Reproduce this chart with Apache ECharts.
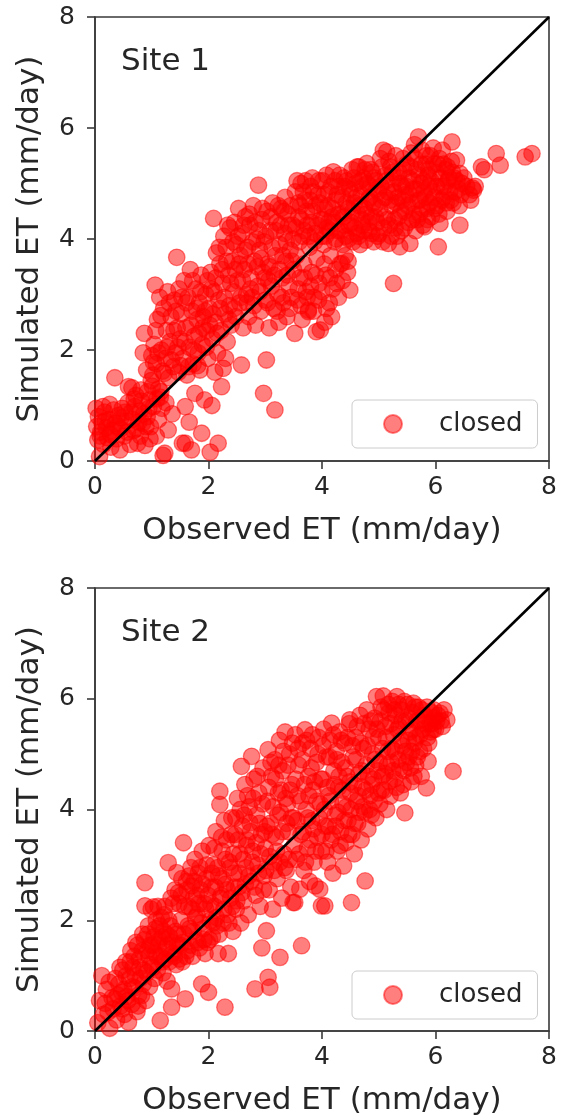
<!DOCTYPE html>
<html>
<head>
<meta charset="utf-8">
<script src="https://cdn.jsdelivr.net/npm/echarts@6/dist/echarts.min.js"></script>
<style>
  html, body { margin: 0; padding: 0; background: #fff; }
  #chart { width: 561px; height: 1120px; }
</style>
</head>
<body>
<div id="chart"></div>
<script>
// Observed vs simulated daily evapotranspiration, two sites, with the 1:1 line.
const axisTicks = [0, 2, 4, 6, 8];
const siteNames = ['Site 1', 'Site 2'];
const seriesName = 'closed';
const xTitle = 'Observed ET (mm/day)';
const yTitle = 'Simulated ET (mm/day)';
const oneToOne = [[0, 0], [8, 8]];

// [observed, simulated] pairs, mm/day
const site1Points = [
  [0.03,0.62],[0.05,0.38],[0.06,0.80],[0.08,0.08],[0.10,0.52],[0.12,0.70],[0.15,0.30],[0.17,0.88],[0.20,0.60],[0.22,0.42],[0.25,0.75],[0.28,0.25],[0.30,0.55],[0.33,0.92],[0.35,1.50],[0.36,0.68],[0.38,0.40],[0.41,0.82],[0.44,0.20],[0.45,0.58],[0.48,0.95],[0.02,0.95],[0.14,0.98],[0.26,1.02],
  [0.52,0.45],[0.55,0.72],[0.58,1.05],[0.59,1.34],[0.62,0.30],[0.64,0.88],[0.65,1.32],[0.68,0.55],[0.70,0.98],[0.72,1.18],[0.75,0.32],[0.77,0.70],[0.80,0.45],[0.82,1.08],[0.85,1.95],[0.86,0.85],[0.87,2.30],[0.88,0.28],[0.90,0.62],[0.91,1.64],[0.93,1.25],[0.95,0.95],[0.97,0.40],[0.99,1.45],[1.00,1.90],
  [1.02,1.55],[1.04,2.10],[1.06,3.17],[1.08,1.75],[1.10,2.55],[1.12,1.30],[1.14,2.95],[1.15,1.15],[1.17,2.00],[1.19,1.62],[1.20,0.10],[1.21,2.75],[1.23,0.14],[1.24,1.85],[1.26,2.35],[1.28,3.05],[1.29,0.56],[1.30,1.50],[1.32,2.15],[1.34,2.60],[1.36,0.85],[1.38,1.70],[1.40,2.90],[1.42,1.95],[1.44,3.67],[1.45,2.40],[1.47,1.60],[1.48,3.10],[1.50,2.20],[1.12,0.75],[1.25,1.05],[1.08,0.45],[1.18,0.95],
  [1.52,2.65],[1.54,0.32],[1.55,1.85],[1.57,3.25],[1.59,0.98],[1.60,2.40],[1.62,1.55],[1.64,2.95],[1.66,2.05],[1.68,3.45],[1.70,0.20],[1.71,2.70],[1.73,1.75],[1.75,2.25],[1.76,1.22],[1.78,3.10],[1.80,2.55],[1.82,1.95],[1.84,2.85],[1.85,1.64],[1.87,3.35],[1.88,0.50],[1.89,2.10],[1.91,2.60],[1.93,1.10],[1.95,3.00],[1.97,2.35],[1.99,1.85],[1.59,0.32],[1.66,0.70],
  [2.01,2.75],[2.03,0.16],[2.04,3.40],[2.06,1.00],[2.07,2.20],[2.09,4.37],[2.10,3.05],[2.12,2.50],[2.14,3.75],[2.16,1.95],[2.17,0.32],[2.18,2.90],[2.20,3.55],[2.22,2.35],[2.23,1.34],[2.25,3.20],[2.26,1.67],[2.27,4.05],[2.29,2.65],[2.31,3.85],[2.33,2.15],[2.35,3.35],[2.37,2.80],[2.38,4.20],[2.40,2.45],[2.42,3.60],[2.44,3.05],[2.46,4.30],[2.48,2.60],[2.49,3.90],[2.11,1.60],[2.30,1.85],
  [2.51,3.25],[2.53,4.55],[2.55,2.85],[2.56,3.70],[2.58,1.73],[2.59,4.10],[2.61,2.40],[2.63,3.45],[2.65,4.40],[2.67,3.00],[2.69,3.85],[2.71,2.60],[2.73,4.25],[2.75,3.30],[2.77,2.95],[2.79,4.60],[2.81,3.60],[2.83,2.45],[2.85,4.00],[2.87,3.15],[2.88,4.97],[2.90,3.80],[2.92,2.70],[2.94,4.35],[2.96,3.40],[2.97,1.22],[2.98,3.95],[3.00,2.90],[3.02,1.82],
  [3.03,4.50],[3.05,3.55],[3.07,2.40],[3.09,4.15],[3.11,3.15],[3.13,4.65],[3.15,2.75],[3.17,0.92],[3.18,3.70],[3.20,4.30],[3.22,3.00],[3.24,2.50],[3.26,3.90],[3.28,4.55],[3.30,3.30],[3.32,2.85],[3.34,4.10],[3.36,3.60],[3.38,2.60],[3.40,4.45],[3.42,3.15],[3.44,3.80],[3.46,2.95],[3.48,4.25],[3.50,3.45],[3.52,2.30],[3.06,3.25],[3.35,4.75],
  [3.53,4.85],[3.55,3.70],[3.57,2.90],[3.59,4.40],[3.61,3.30],[3.63,5.00],[3.65,2.55],[3.66,4.05],[3.68,3.55],[3.70,4.70],[3.72,3.05],[3.74,4.25],[3.76,2.72],[3.78,3.85],[3.80,4.95],[3.82,3.40],[3.84,4.50],[3.86,2.95],[3.88,4.10],[3.90,2.33],[3.91,3.65],[3.93,4.80],[3.95,3.20],[3.97,2.36],[3.98,4.35],[3.76,2.69],[3.62,4.60],
  [4.01,5.05],[4.03,3.90],[4.05,4.55],[4.07,3.35],[4.09,4.20],[4.11,4.85],[4.13,2.85],[4.15,3.70],[4.17,2.60],[4.18,4.40],[4.20,5.21],[4.22,3.95],[4.24,4.70],[4.26,3.20],[4.28,4.15],[4.30,4.95],[4.32,3.55],[4.34,4.45],[4.35,3.56],[4.37,3.90],[4.39,5.10],[4.41,4.25],[4.43,4.65],[4.45,3.40],[4.47,4.00],[4.49,3.08],[4.49,4.90],[4.12,4.30],
  [4.51,4.30],[4.53,5.25],[4.55,3.95],[4.57,4.65],[4.59,5.00],[4.61,4.10],[4.63,4.45],[4.65,5.30],[4.67,3.90],[4.69,4.80],[4.71,4.25],[4.73,5.10],[4.75,4.55],[4.77,3.98],[4.79,5.36],[4.81,4.70],[4.83,4.15],[4.85,4.95],[4.87,4.40],[4.89,5.20],[4.91,3.95],[4.93,4.60],[4.95,5.05],[4.97,4.30],[4.99,4.85],
  [5.01,4.10],[5.03,5.45],[5.05,4.70],[5.07,3.95],[5.08,5.60],[5.10,4.40],[5.12,5.15],[5.14,5.57],[5.16,4.85],[5.17,3.92],[5.19,4.25],[5.21,5.30],[5.23,4.60],[5.25,5.00],[5.26,3.20],[5.28,4.35],[5.30,5.50],[5.32,4.05],[5.34,4.75],[5.36,5.20],[5.37,3.86],[5.39,4.50],[5.41,4.95],[5.43,5.45],[5.45,4.20],[5.47,4.80],[5.49,5.35],
  [5.51,4.60],[5.53,5.10],[5.55,3.92],[5.57,5.55],[5.59,4.35],[5.61,4.90],[5.63,5.70],[5.65,4.15],[5.67,5.25],[5.69,4.70],[5.70,5.84],[5.72,4.45],[5.74,5.00],[5.76,5.60],[5.78,4.25],[5.80,4.85],[5.81,4.22],[5.83,5.35],[5.85,4.55],[5.87,5.15],[5.89,4.95],[5.91,5.50],[5.93,4.40],[5.96,5.64],[5.98,4.75],
  [6.01,5.20],[6.03,4.60],[6.05,3.86],[6.07,5.45],[6.08,4.28],[6.10,4.95],[6.12,5.60],[6.15,4.75],[6.18,5.25],[6.20,4.50],[6.22,5.05],[6.25,4.85],[6.28,5.40],[6.29,5.75],[6.31,4.65],[6.33,5.10],[6.37,5.42],[6.40,4.90],[6.43,4.25],[6.43,5.18],[6.47,5.00],
  [6.60,4.80],[6.67,4.88],[6.70,4.95],[6.81,5.30],[6.86,5.25],[7.14,5.33],[7.07,5.54],[7.58,5.48],[7.70,5.54],
  [0.09,0.45],[0.18,0.72],[0.27,0.48],[0.39,0.62],[0.46,0.78],[0.53,0.88],[0.57,0.52],[0.66,0.75],[0.73,0.58],[0.79,0.90],[0.84,0.68],[0.92,0.80],[0.98,0.62],[1.03,0.98],[1.09,1.12],[1.16,1.25],[0.69,1.12],[0.81,1.28],[0.96,1.10],[1.01,1.35],
  [1.03,1.78],[1.07,2.35],[1.11,1.95],[1.16,2.62],[1.22,1.58],[1.27,2.05],[1.31,2.85],[1.35,1.82],[1.39,2.35],[1.43,2.70],[1.46,2.05],[1.51,1.72],[1.53,2.95],[1.58,2.15],[1.61,2.85],[1.65,1.70],[1.69,2.45],[1.72,3.25],[1.74,2.00],[1.79,2.75],[1.83,2.30],[1.86,3.05],[1.90,2.40],[1.94,2.70],[1.98,3.25],[1.96,2.05],[1.81,1.72],
  [2.02,2.45],[2.05,3.10],[2.08,2.65],[2.13,3.30],[2.15,2.30],[2.19,3.85],[2.21,2.75],[2.24,3.45],[2.28,2.95],[2.32,3.60],[2.34,4.25],[2.36,2.55],[2.39,3.20],[2.43,3.95],[2.45,2.75],[2.47,3.45],[2.52,4.05],[2.54,3.55],[2.57,2.95],[2.60,3.25],[2.62,4.25],[2.64,3.80],[2.68,2.85],[2.70,3.55],[2.72,4.45],[2.74,3.10],[2.78,3.95],[2.80,2.80],[2.82,4.30],[2.86,3.50],[2.89,4.15],[2.91,3.05],[2.93,3.65],[2.95,4.55],[2.99,3.30],[3.01,4.05],[3.04,2.85],[3.08,3.50],[3.10,4.40],[3.12,3.85],[3.16,3.35],[3.19,4.15],[3.21,2.70],[3.23,4.60],[3.25,3.45],[3.27,4.25],[3.29,2.95],[3.31,3.70],[3.33,4.50],[3.37,3.95],[3.39,3.35],[3.41,4.25],[3.43,2.75],[3.45,4.60],[3.47,3.60],[3.49,4.00],
  [3.54,4.20],[3.56,5.05],[3.58,4.65],[3.60,3.95],[3.64,4.35],[3.67,4.85],[3.69,4.15],[3.71,5.05],[3.73,4.50],[3.77,4.05],[3.79,4.70],[3.81,4.30],[3.83,5.10],[3.85,4.85],[3.87,3.95],[3.89,4.60],[3.92,4.25],[3.94,5.05],[3.96,4.65],[3.99,4.05],
  [4.02,4.35],[4.04,4.80],[4.06,4.05],[4.08,5.15],[4.10,4.60],[4.14,4.15],[4.16,4.95],[4.19,4.55],[4.21,4.30],[4.23,5.05],[4.25,4.00],[4.27,4.80],[4.29,4.45],[4.31,5.15],[4.33,4.15],[4.36,4.75],[4.38,4.40],[4.40,4.95],[4.42,4.05],[4.44,5.05],[4.46,4.55],[4.48,4.25],
  [4.52,4.80],[4.54,4.50],[4.56,5.10],[4.58,4.20],[4.60,4.75],[4.62,5.30],[4.64,4.05],[4.66,4.60],[4.68,5.05],[4.70,4.35],[4.72,4.95],[4.74,4.15],[4.76,5.25],[4.78,4.45],[4.80,5.00],[4.82,4.30],[4.84,4.75],[4.86,5.25],[4.88,4.10],[4.90,4.65],[4.92,5.10],[4.94,4.40],[4.96,4.90],[4.98,4.05],
  [5.02,4.55],[5.04,4.95],[5.06,5.30],[5.09,4.20],[5.11,4.75],[5.13,5.05],[5.15,4.35],[5.18,5.40],[5.20,4.70],[5.22,4.05],[5.24,5.20],[5.27,4.85],[5.29,4.20],[5.31,4.65],[5.33,5.10],[5.35,4.40],[5.38,5.00],[5.40,4.15],[5.42,4.70],[5.44,5.25],[5.46,4.50],[5.48,4.95],
  [5.52,4.30],[5.54,4.80],[5.56,5.30],[5.58,4.65],[5.60,5.05],[5.62,4.45],[5.64,5.45],[5.66,4.90],[5.68,4.35],[5.71,5.15],[5.73,4.70],[5.75,5.35],[5.77,4.55],[5.79,5.05],[5.82,4.75],[5.84,5.50],[5.86,4.35],[5.88,5.25],[5.90,4.65],[5.92,5.05],[5.95,4.85],[5.97,5.35],[5.99,4.55],
  [6.02,4.95],[6.04,5.35],[6.06,4.45],[6.09,5.10],[6.11,4.70],[6.14,5.35],[6.16,4.95],[6.19,4.65],[6.21,5.30],[6.24,5.10],[6.27,4.70],[6.30,5.20],[6.35,4.85],[6.38,5.05],[6.42,4.60],[6.45,4.80],[6.50,5.10],[6.55,4.95],[6.62,4.70],[6.65,4.92],
  [3.58,3.10],[3.63,2.80],[3.69,3.30],[3.74,2.95],[3.80,3.15],[3.85,2.70],[3.89,3.35],[3.94,2.90],[4.00,3.05],[4.04,3.55],[4.08,2.75],[4.14,3.30],[4.19,3.10],[4.24,3.45],[4.29,2.95],[4.36,3.25],[4.41,3.70],[4.46,3.60],[4.05,2.50]
];

const site2Points = [
  [0.05,0.15],[0.08,0.55],[0.12,1.00],[0.15,0.30],[0.20,0.75],[0.23,0.34],[0.26,0.05],[0.30,0.60],[0.35,0.58],[0.38,0.20],[0.42,0.85],[0.45,0.45],[0.47,0.70],[0.49,1.10],
  [0.52,0.30],[0.54,1.25],[0.56,0.62],[0.59,0.16],[0.61,0.95],[0.63,1.45],[0.65,0.48],[0.67,1.15],[0.70,0.78],[0.72,1.60],[0.74,0.35],[0.76,0.45],[0.78,1.30],[0.80,0.95],[0.82,0.64],[0.84,1.75],[0.86,1.10],[0.88,2.26],[0.88,2.68],[0.90,0.55],[0.92,1.45],[0.94,1.90],[0.96,0.80],[0.98,1.20],[0.99,2.20],
  [1.01,1.55],[1.03,2.24],[1.05,0.95],[1.07,1.85],[1.09,1.35],[1.11,2.25],[1.13,1.65],[1.15,0.19],[1.17,2.05],[1.19,1.25],[1.21,1.80],[1.23,2.25],[1.25,1.50],[1.27,0.90],[1.29,3.04],[1.30,2.00],[1.32,1.70],[1.34,2.40],[1.35,0.76],[1.35,0.43],[1.37,1.40],[1.41,2.55],[1.43,1.20],[1.44,2.86],[1.46,1.75],[1.48,2.30],[1.50,1.55],
  [1.52,2.45],[1.54,1.25],[1.56,3.40],[1.57,1.75],[1.59,0.58],[1.61,2.70],[1.63,1.45],[1.65,2.25],[1.67,1.85],[1.69,2.95],[1.70,2.62],[1.72,1.35],[1.74,2.40],[1.76,3.10],[1.78,1.65],[1.80,2.10],[1.82,2.85],[1.84,1.50],[1.86,2.55],[1.88,0.85],[1.89,3.25],[1.91,1.85],[1.93,2.30],[1.94,1.40],[1.96,2.75],[1.98,1.60],
  [2.00,0.70],[2.01,3.35],[2.03,2.00],[2.05,2.60],[2.07,1.70],[2.09,3.00],[2.11,2.25],[2.13,3.60],[2.15,1.90],[2.17,1.40],[2.18,2.80],[2.20,4.33],[2.20,4.09],[2.22,2.45],[2.24,3.25],[2.26,1.95],[2.28,3.80],[2.29,0.43],[2.30,2.65],[2.32,3.45],[2.34,2.10],[2.35,1.40],[2.37,3.05],[2.39,2.40],[2.41,3.85],[2.43,1.80],[2.45,2.85],[2.47,3.55],[2.49,2.20],
  [2.51,4.20],[2.53,2.60],[2.55,3.20],[2.57,1.95],[2.58,4.78],[2.60,3.70],[2.62,2.35],[2.64,4.45],[2.66,2.95],[2.68,3.45],[2.70,2.10],[2.72,4.05],[2.73,3.76],[2.75,2.70],[2.76,4.96],[2.78,3.25],[2.80,4.55],[2.82,0.76],[2.83,2.45],[2.85,3.90],[2.87,3.00],[2.89,4.30],[2.91,2.25],[2.93,3.55],[2.94,1.50],[2.96,4.75],[2.98,2.80],
  [3.00,3.30],[3.02,1.81],[3.04,4.15],[3.05,5.08],[3.05,0.97],[3.07,2.55],[3.08,0.79],[3.09,3.75],[3.11,4.60],[3.13,2.20],[3.15,3.05],[3.17,4.90],[3.19,3.50],[3.21,2.75],[3.23,4.30],[3.25,5.25],[3.26,1.33],[3.27,3.95],[3.29,2.40],[3.31,4.70],[3.33,3.20],[3.35,5.40],[3.37,2.90],[3.39,4.10],[3.41,3.60],[3.43,5.00],[3.45,2.60],[3.47,4.45],[3.49,2.32],[3.50,3.85],
  [3.52,2.32],[3.53,5.35],[3.55,3.10],[3.57,4.25],[3.59,4.80],[3.61,2.56],[3.63,3.55],[3.64,1.54],[3.66,5.20],[3.68,2.90],[3.70,5.44],[3.72,4.00],[3.74,3.30],[3.76,4.60],[3.78,2.70],[3.80,5.10],[3.82,3.80],[3.84,4.35],[3.86,3.05],[3.88,2.62],[3.90,4.85],[3.92,3.50],[3.94,5.30],[3.96,2.56],[3.97,4.10],[3.99,2.26],[3.99,3.25],
  [4.01,4.55],[4.03,5.45],[4.05,2.26],[4.06,3.70],[4.08,4.95],[4.10,3.05],[4.12,4.25],[4.14,5.25],[4.16,3.45],[4.17,5.56],[4.19,2.85],[4.21,4.70],[4.23,3.90],[4.25,5.05],[4.27,3.25],[4.29,4.40],[4.31,5.40],[4.33,3.60],[4.35,4.85],[4.37,4.10],[4.38,2.98],[4.40,5.20],[4.42,3.40],[4.44,4.60],[4.46,3.80],[4.48,5.55],[4.49,5.62],[4.50,4.30],
  [4.52,2.32],[4.53,3.55],[4.55,4.95],[4.57,3.20],[4.59,5.30],[4.61,4.15],[4.63,3.75],[4.65,4.65],[4.67,5.70],[4.69,3.45],[4.71,4.40],[4.73,5.10],[4.75,3.95],[4.76,2.71],[4.78,4.80],[4.79,5.80],[4.81,3.65],[4.83,5.45],[4.85,4.25],[4.87,3.90],[4.89,5.00],[4.91,4.55],[4.93,5.65],[4.95,3.85],[4.96,6.04],[4.98,4.70],
  [5.00,5.30],[5.02,4.10],[5.04,5.85],[5.06,4.60],[5.08,6.05],[5.10,4.35],[5.12,5.50],[5.14,4.00],[5.16,5.05],[5.18,5.75],[5.20,4.24],[5.22,4.85],[5.24,5.95],[5.26,5.35],[5.28,4.55],[5.30,5.70],[5.32,6.04],[5.34,4.90],[5.36,5.50],[5.38,4.30],[5.40,5.80],[5.42,5.15],[5.44,4.70],[5.46,3.94],[5.48,5.60],
  [5.51,5.90],[5.53,4.95],[5.55,5.40],[5.57,4.50],[5.59,5.75],[5.61,5.92],[5.63,5.20],[5.65,4.80],[5.67,5.60],[5.70,5.85],[5.72,5.05],[5.75,4.60],[5.78,5.45],[5.80,5.70],[5.84,4.39],[5.86,5.30],[5.87,4.87],[5.90,5.55],[5.93,5.75],[5.96,5.44],[5.98,5.65],
  [6.02,5.60],[6.08,5.74],[6.12,5.50],[6.20,5.62],[6.31,4.69],
  [0.18,0.50],[0.25,0.88],[0.32,0.40],[0.36,0.95],[0.40,0.65],[0.44,1.15],[0.48,0.40],[0.51,0.75],[0.55,1.00],[0.58,0.55],[0.62,1.25],[0.66,0.80],[0.69,1.35],[0.71,1.00],[0.75,1.55],[0.77,0.65],[0.79,1.15],[0.83,1.45],[0.85,0.85],[0.87,1.65],[0.91,1.05],[0.93,1.75],[0.95,1.35],[0.97,1.55],[1.02,1.15],[1.04,1.70],[1.06,1.40],[1.08,2.00],[1.10,1.10],[1.12,1.55],[1.14,1.90],[1.16,1.35],[1.18,1.70],[1.20,1.05],[1.22,2.10],[1.24,1.30],[1.26,1.75],[1.28,1.55],[1.31,1.25],[1.33,1.90],[1.36,1.60],[1.38,2.30],[1.40,1.35],[1.42,1.80],[1.45,1.55],[1.47,2.50],[1.49,1.30],
  [1.51,2.00],[1.53,2.75],[1.55,1.60],[1.58,2.25],[1.60,1.35],[1.62,2.55],[1.64,1.90],[1.66,2.80],[1.68,1.55],[1.71,2.20],[1.73,1.80],[1.75,2.70],[1.77,2.05],[1.79,2.45],[1.81,1.60],[1.83,2.30],[1.85,2.95],[1.87,1.95],[1.90,2.65],[1.92,1.65],[1.95,2.20],[1.97,3.00],[1.99,2.45],
  [2.02,1.65],[2.04,2.30],[2.06,2.85],[2.08,1.95],[2.10,3.30],[2.12,2.60],[2.14,2.05],[2.16,2.95],[2.19,1.75],[2.21,2.40],[2.23,3.50],[2.25,2.75],[2.27,2.20],[2.30,3.10],[2.33,2.55],[2.36,1.95],[2.38,2.95],[2.40,3.55],[2.42,2.25],[2.44,3.20],[2.46,2.60],[2.48,3.85],
  [2.50,2.35],[2.52,3.45],[2.54,2.85],[2.56,4.00],[2.59,2.50],[2.61,3.10],[2.63,3.90],[2.65,2.65],[2.67,3.35],[2.69,4.25],[2.71,2.80],[2.74,3.60],[2.77,3.05],[2.79,4.20],[2.81,2.60],[2.84,3.40],[2.86,4.60],[2.88,2.85],[2.90,3.75],[2.92,3.20],[2.95,4.10],[2.97,2.55],[2.99,3.60],
  [3.01,2.90],[3.03,3.70],[3.06,4.40],[3.08,3.15],[3.10,4.85],[3.12,3.55],[3.14,4.05],[3.16,2.90],[3.18,4.55],[3.20,3.25],[3.22,3.90],[3.24,4.80],[3.26,3.05],[3.28,4.35],[3.30,3.60],[3.32,5.05],[3.34,2.95],[3.36,4.20],[3.38,3.75],[3.40,4.80],[3.42,3.10],[3.44,4.35],[3.46,3.85],[3.48,5.20],
  [3.51,3.35],[3.54,4.55],[3.56,3.80],[3.58,5.10],[3.60,3.20],[3.62,4.15],[3.65,4.90],[3.67,3.60],[3.69,4.45],[3.71,3.05],[3.73,5.25],[3.75,3.85],[3.77,4.25],[3.79,3.45],[3.81,4.75],[3.83,5.35],[3.85,3.65],[3.87,4.50],[3.89,3.25],[3.91,4.15],[3.93,5.00],[3.95,3.85],[3.98,4.55],
  [4.00,3.55],[4.02,5.15],[4.04,4.00],[4.07,3.25],[4.09,4.40],[4.11,3.70],[4.13,4.95],[4.15,4.15],[4.18,3.55],[4.20,5.35],[4.22,4.45],[4.24,3.70],[4.26,4.90],[4.28,3.95],[4.30,4.60],[4.32,3.35],[4.34,5.25],[4.36,4.35],[4.39,3.80],[4.41,4.75],[4.43,4.05],[4.45,5.30],[4.47,3.55],[4.49,4.50],
  [4.51,4.00],[4.54,5.15],[4.56,4.45],[4.58,3.75],[4.60,4.90],[4.62,5.50],[4.64,4.25],[4.66,3.95],[4.68,5.20],[4.70,4.70],[4.72,4.05],[4.74,5.55],[4.77,4.35],[4.80,5.15],[4.82,4.60],[4.84,4.00],[4.86,5.60],[4.88,4.45],[4.90,5.30],[4.92,4.15],[4.94,4.90],[4.97,5.45],[4.99,4.30],
  [5.01,4.85],[5.03,5.60],[5.05,4.35],[5.07,5.10],[5.09,5.80],[5.11,4.65],[5.13,5.30],[5.15,4.80],[5.17,5.90],[5.19,4.50],[5.21,5.55],[5.23,5.10],[5.25,4.70],[5.27,5.80],[5.29,5.05],[5.31,4.40],[5.33,5.45],[5.35,5.90],[5.37,4.75],[5.39,5.25],[5.41,5.60],[5.43,4.45],[5.45,5.95],[5.47,5.05],[5.49,4.85],
  [5.52,5.25],[5.54,5.65],[5.56,4.75],[5.58,5.05],[5.60,5.45],[5.62,4.60],[5.64,5.85],[5.66,5.30],[5.68,4.95],[5.71,5.60],[5.73,5.35],[5.76,5.80],[5.79,5.10],[5.82,5.55],[5.85,5.85],[5.88,5.20],[5.91,5.40],[5.94,5.55],[5.97,5.80],[6.00,5.45],[6.04,5.70],[6.10,5.60],[6.15,5.80]
];

const FONT = 'DejaVu Sans';
const INK = '#262626';
const FRAME = '#3a3a3a';
const DOT = 'rgba(255, 0, 0, 0.5)';

// Plot rectangles (pixels) for the two stacked panels
const panels = [
  { left: 95, top: 17, width: 454, height: 444 },
  { left: 95, top: 588, width: 454, height: 444 }
];

function xAxisFor(i) {
  return {
    gridIndex: i, type: 'value',
    min: axisTicks[0], max: axisTicks[axisTicks.length - 1], interval: 2,
    name: xTitle, nameLocation: 'middle', nameGap: 52,
    nameTextStyle: { fontFamily: FONT, fontSize: 31, color: INK, lineHeight: 36 },
    axisLine: { show: true, onZero: false, lineStyle: { color: FRAME, width: 1.6 } },
    axisTick: { show: true, inside: false, length: 8, lineStyle: { color: FRAME, width: 1.6 } },
    axisLabel: { fontFamily: FONT, fontSize: 25, color: INK, margin: 14 },
    splitLine: { show: false }
  };
}
function yAxisFor(i) {
  return {
    gridIndex: i, type: 'value',
    min: axisTicks[0], max: axisTicks[axisTicks.length - 1], interval: 2,
    name: yTitle, nameLocation: 'middle', nameGap: 47,
    nameTextStyle: { fontFamily: FONT, fontSize: 31, color: INK, lineHeight: 36 },
    axisLine: { show: true, onZero: false, lineStyle: { color: FRAME, width: 1.6 } },
    axisTick: { show: true, inside: false, length: 8, lineStyle: { color: FRAME, width: 1.6 } },
    axisLabel: { fontFamily: FONT, fontSize: 25, color: INK, margin: 20 },
    splitLine: { show: false }
  };
}
function scatterFor(i, pts) {
  return {
    name: seriesName, type: 'scatter', xAxisIndex: i, yAxisIndex: i,
    data: pts, symbol: 'circle', symbolSize: 16.5,
    itemStyle: { color: DOT, borderColor: DOT, borderWidth: 1.3, opacity: 1 },
    emphasis: { disabled: true }, z: 2
  };
}
function diagonalFor(i) {
  return {
    name: '1:1', type: 'line', xAxisIndex: i, yAxisIndex: i,
    data: oneToOne, showSymbol: false, symbol: 'none',
    lineStyle: { color: '#000', width: 2.6 },
    emphasis: { disabled: true }, silent: true, z: 3
  };
}
function legendFor(i) {
  const p = panels[i];
  return {
    data: [seriesName],
    left: 352, top: p.top + p.height - 61,
    orient: 'horizontal',
    icon: 'circle', itemWidth: 18, itemHeight: 18,
    padding: [9, 15, 9, 31],
    backgroundColor: 'rgba(255,255,255,0.8)',
    borderColor: '#cccccc', borderWidth: 1, borderRadius: 5,
    textStyle: { fontFamily: FONT, fontSize: 26, color: INK, lineHeight: 30, padding: [0, 0, 0, 32] },
    selectedMode: false
  };
}

const chart = echarts.init(document.getElementById('chart'), null, { renderer: 'canvas' });
chart.setOption({
  animation: false,
  backgroundColor: '#ffffff',
  title: siteNames.map((t, i) => ({
    text: t, left: 121, top: panels[i].top + 27, padding: 0,
    textStyle: { fontFamily: FONT, fontSize: 31, fontWeight: 'normal', color: INK, lineHeight: 36 }
  })),
  grid: panels.map(p => ({
    left: p.left, top: p.top, width: p.width, height: p.height,
    show: true, borderColor: FRAME, borderWidth: 1.6, backgroundColor: 'transparent',
    containLabel: false
  })),
  xAxis: [xAxisFor(0), xAxisFor(1)],
  yAxis: [yAxisFor(0), yAxisFor(1)],
  legend: [legendFor(0), legendFor(1)],
  series: [
    scatterFor(0, site1Points), diagonalFor(0),
    scatterFor(1, site2Points), diagonalFor(1)
  ]
});
</script>
</body>
</html>
